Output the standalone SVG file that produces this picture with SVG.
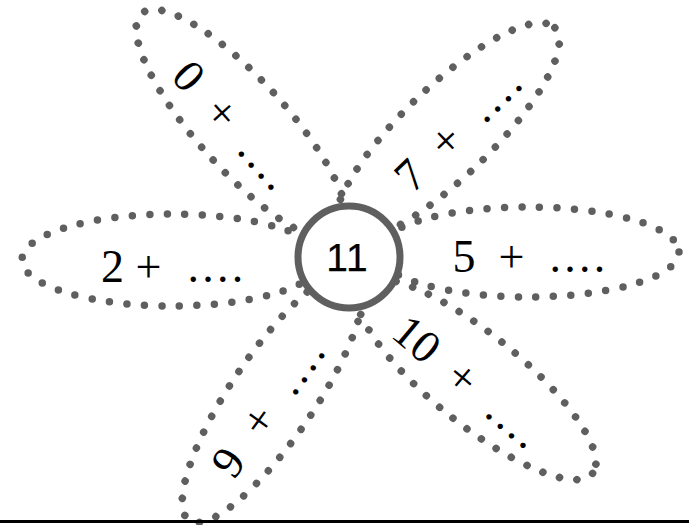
<svg xmlns="http://www.w3.org/2000/svg" width="689" height="525" viewBox="0 0 689 525">
<style>
.petal{fill:none;stroke:#5f5f5f;stroke-width:7.5;stroke-linecap:round;stroke-dasharray:0 17.5}
.t{font-family:"Liberation Serif","Times New Roman",serif;font-size:46px;fill:#000;text-anchor:middle}
.d{letter-spacing:3.3px}
.hub{fill:#fff;stroke:#5f5f5f;stroke-width:7}
.c{font-family:"Liberation Sans",Arial,sans-serif;font-size:39px;fill:#000;stroke:#000;stroke-width:0.25;letter-spacing:1px;text-anchor:middle}
</style>
<rect width="689" height="525" fill="#fff"/>
<g id="petal-left">
<ellipse class="petal" cx="172" cy="260" rx="150" ry="46"/>
</g>
<g id="petal-right">
<ellipse class="petal" cx="528" cy="252" rx="151" ry="45"/>
</g>
<g id="petal-topleft">
<ellipse class="petal" cx="0" cy="0" rx="150" ry="45" transform="translate(242,125) rotate(48)"/>
</g>
<g id="petal-topright">
<ellipse class="petal" cx="0" cy="0" rx="150" ry="45" transform="translate(447,132) rotate(-44)"/>
</g>
<g id="petal-bottomleft">
<ellipse class="petal" cx="0" cy="0" rx="150" ry="42" transform="translate(273,396) rotate(-56)"/>
</g>
<g id="petal-bottomright">
<ellipse class="petal" cx="0" cy="0" rx="150" ry="45" transform="translate(476,379) rotate(39)"/>
</g>
<g id="center">
<circle class="hub" cx="349" cy="257" r="51"/>
<text class="c" x="347.5" y="271">11</text>
</g>
<g id="label-left">
<text class="t" x="112.5" y="282">2</text>
<text class="t" x="148.5" y="282">+</text>
<text class="t d" x="217" y="282">....</text>
</g>
<g id="label-right">
<text class="t" x="464" y="272">5</text>
<text class="t" x="511.5" y="272">+</text>
<text class="t d" x="579" y="272">....</text>
</g>
<g id="label-topleft" transform="translate(177.4,86.4) rotate(48)">
<text class="t" x="0" y="0">0</text>
<text class="t" x="49.6" y="0">+</text>
<text class="t d" x="117" y="0">....</text>
</g>
<g id="label-topright" transform="translate(420.8,186.2) rotate(-44)">
<text class="t" x="0" y="0">7</text>
<text class="t" x="49.5" y="0">+</text>
<text class="t d" x="118" y="0">....</text>
</g>
<g id="label-bottomleft" transform="translate(240.6,471.2) rotate(-54)">
<text class="t" x="0" y="0">9</text>
<text class="t" x="51.6" y="0">+</text>
<text class="t d" x="120.5" y="0">....</text>
</g>
<g id="label-bottomright" transform="translate(407,350.9) rotate(40)">
<text class="t" x="0" y="0">10</text>
<text class="t" x="59.7" y="0">+</text>
<text class="t d" x="129" y="0">....</text>
</g>
<line x1="0" y1="521.5" x2="689" y2="521.5" stroke="#000" stroke-width="3"/>
</svg>
